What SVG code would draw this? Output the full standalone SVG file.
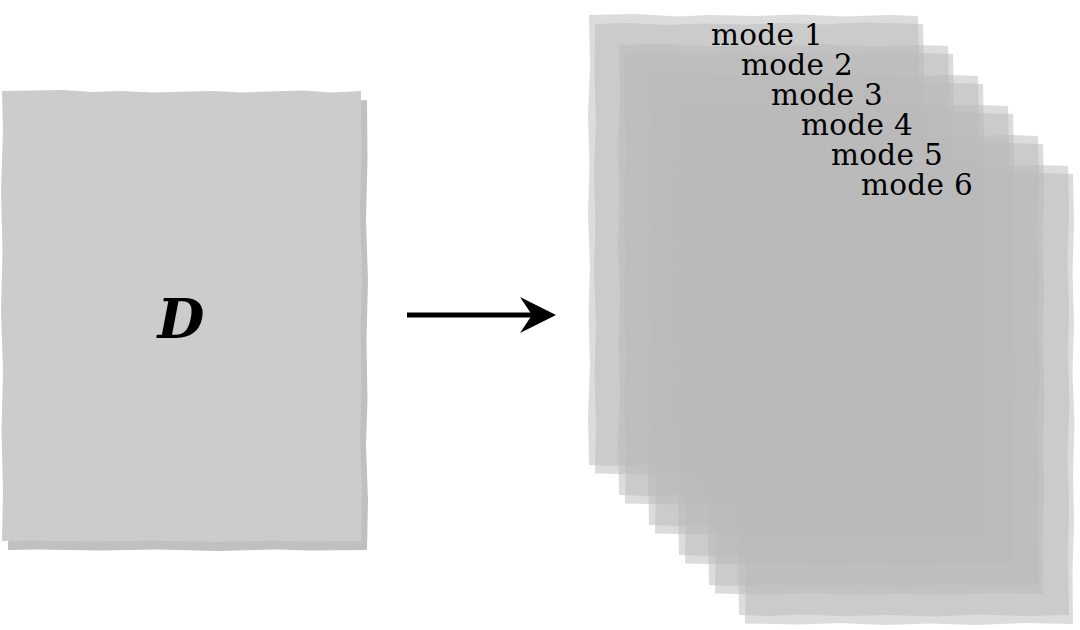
<svg xmlns="http://www.w3.org/2000/svg" xmlns:xlink="http://www.w3.org/1999/xlink" width="1080" height="630" viewBox="0 0 1080 630">
<style>
.front{fill:#cccccc}
.shadow{fill:#c0c0c0}
.layer{fill:#bababa;fill-opacity:0.5}
.lbl{font-family:"DejaVu Serif","Liberation Serif",serif;font-size:29.5px;letter-spacing:0.3px;fill:#000}
.big{font-family:"DejaVu Serif","Liberation Serif",serif;font-size:54px;font-weight:bold;font-style:italic;fill:#000;text-anchor:middle}
.conn{stroke:#000;stroke-width:5;fill:none}
</style>
<defs>
<path id="la" d="M0,0 L60,-1 L90,1 L120,0 L150,1.5 L210,0 L240,1.5 L300,-0.5 L330,1.5 L359,0 L359.5,60 L358,120 L360,180 L358.5,240 L359.5,300 L358,345 L360,400 L359,450 L300,450.5 L270,449.5 L210,451 L150,449.5 L90,450.5 L30,449.5 L0,450 L1,400 L-0.5,340 L1,280 L-1,220 L0.5,160 L-1,100 L1,40 Z"/>
<path id="sa" d="M0,0 L45,-1 L90,1.5 L120,0 L165,1 L210,-0.5 L255,1.5 L300,0 L329,1 L330,45 L328.5,95 L330,140 L329,190 L330.5,240 L328.5,290 L330,340 L329,390 L330,450 L285,451 L240,449.5 L195,451.5 L150,450 L105,451 L60,449.5 L30,451 L0,450 L-1,400 L1,350 L-0.5,300 L1,250 L-1,200 L0.5,150 L-1,100 L1,50 Z"/>
<path id="sb" d="M0,1 L35,0 L70,2 L110,0.5 L150,1.5 L190,0 L230,1.5 L270,-0.5 L328,1 L329,50 L327.5,100 L329,150 L327.5,200 L329.5,250 L328,300 L329,350 L327.5,400 L328,451 L280,450 L230,452 L185,450.5 L140,452 L95,450 L55,451.5 L0,450.5 L1,400 L-0.5,350 L1,300 L-1,250 L0.5,200 L-1,150 L1,100 L-0.5,50 Z"/>
<marker id="head" markerUnits="userSpaceOnUse" markerWidth="36" markerHeight="36" refX="20" refY="18" orient="auto">
<path d="M0,0 L36,18 L0,36 L12,18 Z" fill="#000"/>
</marker>
</defs>
<rect width="1080" height="630" fill="#fff"/>
<g id="D">
<use xlink:href="#la" href="#la" class="shadow" transform="translate(8,100)"/>
<use xlink:href="#la" href="#la" class="front" transform="translate(2,91)"/>
<text class="big" x="181" y="338">D</text>
</g>
<g id="connectors">
<line class="conn" x1="407" y1="315" x2="540" y2="315" marker-end="url(#head)"/>
</g>
<g id="mode1">
<use xlink:href="#sa" href="#sa" class="layer" transform="translate(589,15)"/>
<use xlink:href="#sb" href="#sb" class="layer" transform="translate(595,23)"/>
<text class="lbl" x="711" y="45">mode 1</text>
</g>
<g id="mode2">
<use xlink:href="#sa" href="#sa" class="layer" transform="translate(619,45)"/>
<use xlink:href="#sb" href="#sb" class="layer" transform="translate(625,53)"/>
<text class="lbl" x="741" y="75">mode 2</text>
</g>
<g id="mode3">
<use xlink:href="#sa" href="#sa" class="layer" transform="translate(649,75)"/>
<use xlink:href="#sb" href="#sb" class="layer" transform="translate(655,83)"/>
<text class="lbl" x="771" y="105">mode 3</text>
</g>
<g id="mode4">
<use xlink:href="#sa" href="#sa" class="layer" transform="translate(679,105)"/>
<use xlink:href="#sb" href="#sb" class="layer" transform="translate(685,113)"/>
<text class="lbl" x="801" y="135">mode 4</text>
</g>
<g id="mode5">
<use xlink:href="#sa" href="#sa" class="layer" transform="translate(709,135)"/>
<use xlink:href="#sb" href="#sb" class="layer" transform="translate(715,143)"/>
<text class="lbl" x="831" y="165">mode 5</text>
</g>
<g id="mode6">
<use xlink:href="#sa" href="#sa" class="layer" transform="translate(739,165)"/>
<use xlink:href="#sb" href="#sb" class="layer" transform="translate(745,173)"/>
<text class="lbl" x="861" y="195">mode 6</text>
</g>
</svg>
